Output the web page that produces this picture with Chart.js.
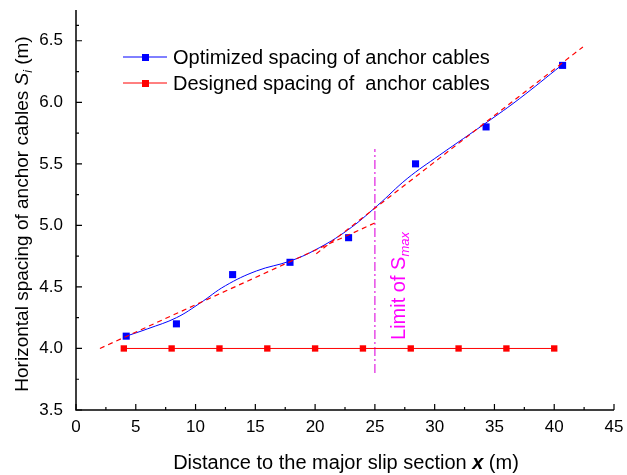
<!DOCTYPE html>
<html>
<head>
<meta charset="utf-8">
<script src="https://cdn.jsdelivr.net/npm/chart.js@4.4.0/dist/chart.umd.min.js"></script>
<style>
  html, body { margin: 0; padding: 0; background: #fff; }
  #wrap { width: 627px; height: 475px; }
</style>
</head>
<body>
<div id="wrap"><canvas id="chart" width="627" height="475"></canvas></div>
<script>
// datos
const optX = [4.2, 8.4, 13.1, 17.9, 22.8, 28.4, 34.3, 40.7];
const optY = [4.1, 4.2, 4.6, 4.7, 4.9, 5.5, 5.8, 6.3];
const desX = [4, 8, 12, 16, 20, 24, 28, 32, 36, 40];
const desY = [4.0, 4.0, 4.0, 4.0, 4.0, 4.0, 4.0, 4.0, 4.0, 4.0];
// curva suavizada (leida punto a punto)
const curveX = [4.2, 6.0, 8.4, 10.4, 12.5, 15.1, 17.9, 20.0, 22.7, 25.2, 27.7, 30.4, 34.4, 37.1, 40.6];
const curveY = [4.10, 4.16, 4.25, 4.37, 4.51, 4.63, 4.71, 4.80, 4.96, 5.16, 5.38, 5.57, 5.84, 6.03, 6.30];
// rectas de ajuste
const fit1X = [2, 25];
const fit1Y = [4.0, 5.02];
const fit2X = [20.1, 42.4];
const fit2Y = [4.77, 6.45];
// limite de Smax
const limitX = [25, 25];
const limitY = [3.8, 5.62];
const xTicks = [0, 5, 10, 15, 20, 25, 30, 35, 40, 45];
const yTicks = [3.5, 4.0, 4.5, 5.0, 5.5, 6.0, 6.5];
const legendLabels = ['Optimized spacing of anchor cables', 'Designed spacing of  anchor cables'];

const pts = (xs, ys) => xs.map((x, i) => ({ x: x, y: ys[i] }));
const FONT = '"Liberation Sans", Arial, sans-serif';

// dibuja textos con partes en distinto estilo
function drawRich(ctx, parts, x, y, align) {
  let total = 0;
  parts.forEach(p => { ctx.font = p.font; total += ctx.measureText(p.t).width; });
  let cx = align === 'center' ? x - total / 2 : x;
  ctx.textAlign = 'left';
  ctx.textBaseline = 'alphabetic';
  parts.forEach(p => {
    ctx.font = p.font;
    ctx.fillText(p.t, cx, y + (p.dy || 0));
    cx += ctx.measureText(p.t).width;
  });
}

const extras = {
  id: 'extras',
  afterDraw(chart) {
    const ctx = chart.ctx;
    const xs = chart.scales.x, ys = chart.scales.y;
    const area = chart.chartArea;
    ctx.save();
    // ejes
    ctx.strokeStyle = '#000';
    ctx.lineWidth = 1.5;
    ctx.beginPath();
    ctx.moveTo(area.left, area.top);
    ctx.lineTo(area.left, area.bottom);
    ctx.lineTo(area.right, area.bottom);
    ctx.stroke();
    // marcas hacia dentro
    ctx.lineWidth = 1.2;
    ctx.beginPath();
    xTicks.forEach((v, i) => {
      const px = xs.getPixelForValue(v);
      ctx.moveTo(px, area.bottom); ctx.lineTo(px, area.bottom - 6);
      if (i < xTicks.length - 1) {
        const m = xs.getPixelForValue((v + xTicks[i + 1]) / 2);
        ctx.moveTo(m, area.bottom); ctx.lineTo(m, area.bottom - 3);
      }
    });
    const yAll = yTicks.concat([6.75]);
    yAll.forEach((v, i) => {
      const py = ys.getPixelForValue(v);
      if (i < yTicks.length) { ctx.moveTo(area.left, py); ctx.lineTo(area.left + 6, py); }
      if (i < yAll.length - 1) {
        const m = ys.getPixelForValue((v + yAll[i + 1]) / 2);
        ctx.moveTo(area.left, m); ctx.lineTo(area.left + 3, m);
      }
    });
    ctx.stroke();

    // leyenda
    const cols = ['#0000ff', '#ff0000'];
    legendLabels.forEach((lab, i) => {
      const ly = 57 + i * 26;
      ctx.strokeStyle = cols[i];
      ctx.lineWidth = 1;
      ctx.beginPath(); ctx.moveTo(123, ly); ctx.lineTo(167, ly); ctx.stroke();
      ctx.fillStyle = cols[i];
      ctx.fillRect(142, ly - 3, 7, 7);
      ctx.fillStyle = '#000';
      ctx.font = '20px ' + FONT;
      ctx.textAlign = 'left';
      ctx.textBaseline = 'middle';
      ctx.fillText(lab, 173, ly + 1);
    });

    // titulo eje x
    ctx.fillStyle = '#000';
    drawRich(ctx, [
      { t: 'Distance to the major slip section ', font: '20px ' + FONT },
      { t: 'x', font: 'italic bold 20px ' + FONT },
      { t: ' (m)', font: '20px ' + FONT }
    ], 346, 469, 'center');

    // titulo eje y
    ctx.save();
    ctx.translate(28, 214);
    ctx.rotate(-Math.PI / 2);
    drawRich(ctx, [
      { t: 'Horizontal spacing of anchor cables ', font: '19px ' + FONT },
      { t: 'S', font: 'italic 19px ' + FONT },
      { t: 'i', font: 'italic 12px ' + FONT, dy: 4 },
      { t: ' (m)', font: '19px ' + FONT }
    ], 0, 0, 'center');
    ctx.restore();

    // texto del limite
    ctx.save();
    ctx.fillStyle = '#ff00ff';
    ctx.translate(405, 286);
    ctx.rotate(-Math.PI / 2);
    drawRich(ctx, [
      { t: 'Limit of S', font: '20px ' + FONT },
      { t: 'max', font: 'italic 13px ' + FONT, dy: 4 }
    ], 0, 0, 'center');
    ctx.restore();
    ctx.restore();
  }
};

const ctx = document.getElementById('chart').getContext('2d');
const chart = new Chart(ctx, {
  type: 'scatter',
  data: {
    datasets: [
      {
        label: 'fit1', data: pts(fit1X, fit1Y), showLine: true,
        borderColor: '#ff0000', borderWidth: 1.2, borderDash: [5, 4], pointRadius: 0
      },
      {
        label: 'fit2', data: pts(fit2X, fit2Y), showLine: true,
        borderColor: '#ff0000', borderWidth: 1.2, borderDash: [5, 4], pointRadius: 0
      },
      {
        label: 'curve', data: pts(curveX, curveY), showLine: true,
        borderColor: '#0000ff', borderWidth: 1, pointRadius: 0, tension: 0.4
      },
      {
        label: legendLabels[0], data: pts(optX, optY), showLine: false,
        pointStyle: 'rect', pointRadius: 5, backgroundColor: '#0000ff', borderColor: '#0000ff', borderWidth: 0
      },
      {
        label: legendLabels[1], data: pts(desX, desY), showLine: true,
        borderColor: '#ff0000', borderWidth: 1, backgroundColor: '#ff0000',
        pointStyle: 'rect', pointRadius: 4.5, pointBorderWidth: 0
      },
      {
        label: 'limit', data: pts(limitX, limitY), showLine: true,
        borderColor: '#e020e0', borderWidth: 1.2, borderDash: [9, 3, 2, 3], pointRadius: 0
      }
    ]
  },
  options: {
    responsive: false,
    animation: false,
    layout: { padding: { left: 0, right: 13, top: 10, bottom: 0 } },
    plugins: { legend: { display: false }, tooltip: { enabled: false } },
    scales: {
      x: {
        type: 'linear', min: 0, max: 45,
        afterBuildTicks: s => { s.ticks = xTicks.map(v => ({ value: v })); },
        afterFit: s => { s.height = 65; s.paddingLeft = 0; s.paddingRight = 0; },
        grid: { display: false, drawTicks: false },
        border: { display: false },
        ticks: { color: '#000', font: { family: FONT, size: 17 }, padding: 7, maxRotation: 0 }
      },
      y: {
        type: 'linear', min: 3.5, max: 6.75,
        afterBuildTicks: s => { s.ticks = yTicks.map(v => ({ value: v })); },
        afterFit: s => { s.width = 76; s.paddingTop = 0; s.paddingBottom = 0; },
        grid: { display: false, drawTicks: false },
        border: { display: false },
        ticks: { color: '#000', font: { family: FONT, size: 17 }, padding: 13,
          callback: v => v.toFixed(1) }
      }
    }
  },
  plugins: [extras]
});
</script>
</body>
</html>
